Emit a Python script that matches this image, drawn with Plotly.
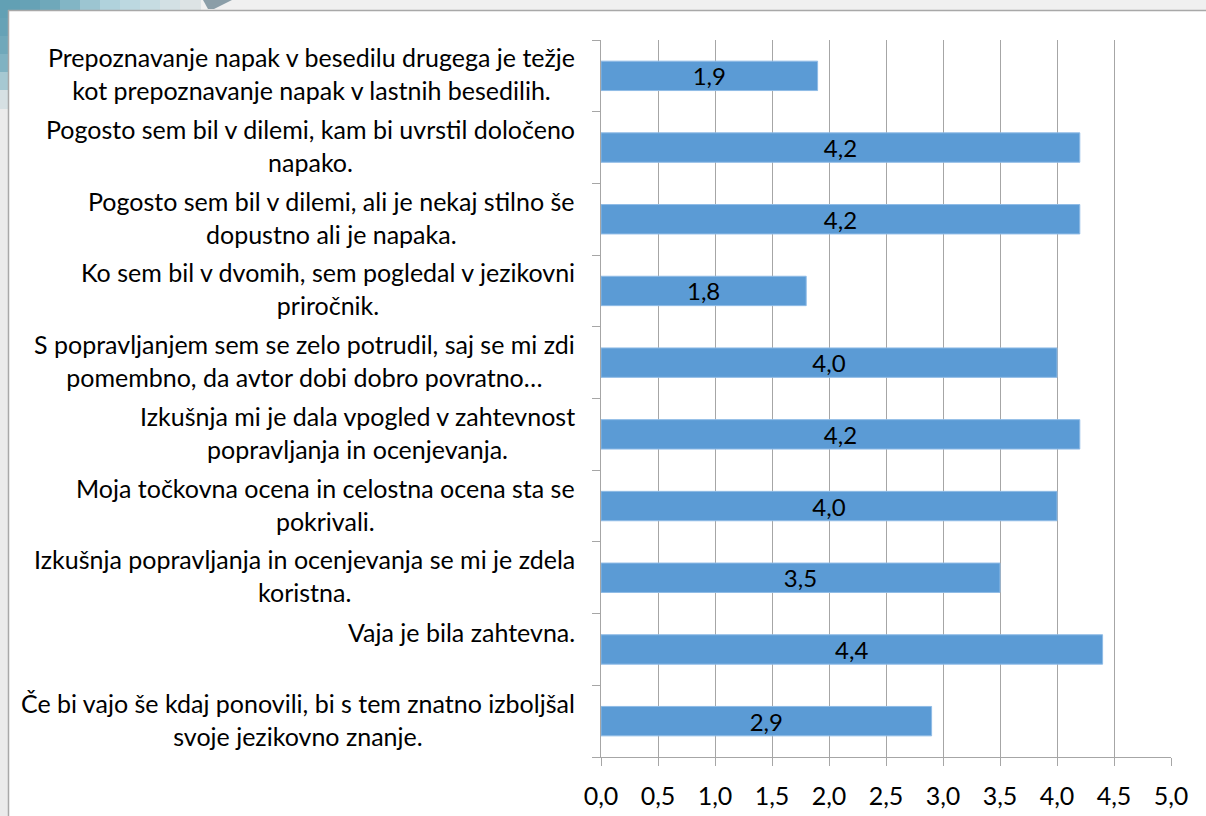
import plotly.graph_objects as go

# Survey statements (top to bottom) and their average scores
statements = [
    "Prepoznavanje napak v besedilu drugega je težje<br>kot prepoznavanje napak v lastnih besedilih.",
    "Pogosto sem bil v dilemi, kam bi uvrstil določeno<br>napako.",
    "Pogosto sem bil v dilemi, ali je nekaj stilno še<br>dopustno ali je napaka.",
    "Ko sem bil v dvomih, sem pogledal v jezikovni<br>priročnik.",
    "S popravljanjem sem se zelo potrudil, saj se mi zdi<br>pomembno, da avtor dobi dobro povratno…",
    "Izkušnja mi je dala vpogled v zahtevnost<br>popravljanja in ocenjevanja.",
    "Moja točkovna ocena in celostna ocena sta se<br>pokrivali.",
    "Izkušnja popravljanja in ocenjevanja se mi je zdela<br>koristna.",
    "Vaja je bila zahtevna.",
    "Če bi vajo še kdaj ponovili, bi s tem znatno izboljšal<br>svoje jezikovno znanje.",
]
scores = [1.9, 4.2, 4.2, 1.8, 4.0, 4.2, 4.0, 3.5, 4.4, 2.9]
x_ticks = [0.0, 0.5, 1.0, 1.5, 2.0, 2.5, 3.0, 3.5, 4.0, 4.5, 5.0]

W, H = 1206, 816
ML, MR, MT, MB = 601, 35, 40, 59
PW, PH = W - ML - MR, H - MT - MB
FONT = "Lato"
GRID = "#a6a6a6"


def px_x(p):
    return (p - ML) / PW


def px_y(p):
    return (H - MB - p) / PH


positions = list(range(len(statements)))

fig = go.Figure()
fig.add_trace(go.Bar(
    x=scores,
    y=positions,
    orientation="h",
    width=0.41,
    marker=dict(color="#5b9bd5", line=dict(color="#8fbbe6", width=1)),
    texttemplate="%{x:.1f}",
    textposition="inside",
    insidetextanchor="middle",
    constraintext="none",
    textfont=dict(family=FONT, size=24, color="#000000"),
    hoverinfo="skip",
))

# Window frame around the chart
shapes = [
    dict(type="rect", xref="paper", yref="paper", layer="below",
         x0=px_x(0), x1=px_x(W), y0=px_y(0), y1=px_y(10.5),
         fillcolor="#f0f0f0", line=dict(width=0)),
    dict(type="rect", xref="paper", yref="paper", layer="below",
         x0=px_x(0), x1=px_x(8.5), y0=px_y(0), y1=px_y(H),
         fillcolor="#ebebeb", line=dict(width=0)),
]
# teal swoosh in the top-left corner
teal = ["#62a0b4", "#66a2b6", "#6fa8ba", "#82b5c5", "#9cc5d1", "#b0d2dc",
        "#bcd8e0", "#c6dce2", "#d3e0e4", "#dde3e5"]
seg = 20
for i, c in enumerate(teal):
    shapes.append(dict(type="rect", xref="paper", yref="paper", layer="below",
                       x0=px_x(i * seg), x1=px_x((i + 1) * seg + 1),
                       y0=px_y(0), y1=px_y(10.5), fillcolor=c, line=dict(width=0)))
for i, c in enumerate(["#62a0b4", "#66a2b6", "#70a8ba", "#80b2c2", "#a6c8d2", "#d6e0e3"]):
    shapes.append(dict(type="rect", xref="paper", yref="paper", layer="below",
                       x0=px_x(0), x1=px_x(8.5),
                       y0=px_y(i * 18), y1=px_y((i + 1) * 18 + 1),
                       fillcolor=c, line=dict(width=0)))
# dark slate wedge
shapes.append(dict(type="path", xref="paper", yref="paper", layer="below",
                   path="M {} {} L {} {} L {} {} L {} {} Z".format(
                       px_x(203), px_y(0), px_x(232), px_y(0),
                       px_x(214), px_y(9), px_x(208), px_y(9)),
                   fillcolor="#8b9ea8", line=dict(width=0)))
shapes += [
    dict(type="line", xref="paper", yref="paper",
         x0=px_x(8), x1=px_x(W), y0=px_y(10.5), y1=px_y(10.5),
         line=dict(color="#a8a8a8", width=1.5)),
    dict(type="line", xref="paper", yref="paper",
         x0=px_x(8.5), x1=px_x(8.5), y0=px_y(10), y1=px_y(H),
         line=dict(color="#a8a8a8", width=1.5)),
]

# Category labels, centred lines in a right-aligned block
annotations = []
for pos, text in zip(positions, statements):
    single = "<br>" not in text
    annotations.append(dict(
        x=px_x(577), xref="paper", y=pos, yref="y",
        text=text, showarrow=False, xanchor="right", yanchor="middle",
        align="center", yshift=17 if single else 2,
        font=dict(family=FONT, size=25, color="#000000"),
    ))

fig.update_layout(
    width=W, height=H,
    margin=dict(l=ML, r=MR, t=MT, b=MB, pad=0),
    paper_bgcolor="white", plot_bgcolor="white",
    separators=", ",
    showlegend=False,
    shapes=shapes,
    annotations=annotations,
    font=dict(family=FONT, size=24, color="#000000"),
    xaxis=dict(
        range=[0, 5], tickvals=x_ticks, tickformat=".1f",
        showgrid=True, gridcolor=GRID, gridwidth=1,
        showline=True, linecolor=GRID, linewidth=1,
        ticks="outside", ticklen=8, tickcolor=GRID,
        ticklabelstandoff=9, automargin=False,
        tickfont=dict(family=FONT, size=25, color="#000000"),
        zeroline=False, fixedrange=True,
    ),
    yaxis=dict(
        range=[len(statements) - 0.5, -0.5],
        tickvals=[p - 0.5 for p in positions] + [len(statements) - 0.5],
        showticklabels=False, showgrid=False,
        showline=True, linecolor=GRID, linewidth=1,
        ticks="outside", ticklen=8, tickcolor=GRID,
        zeroline=False, fixedrange=True, automargin=False,
    ),
)

fig.write_html("out.html")
